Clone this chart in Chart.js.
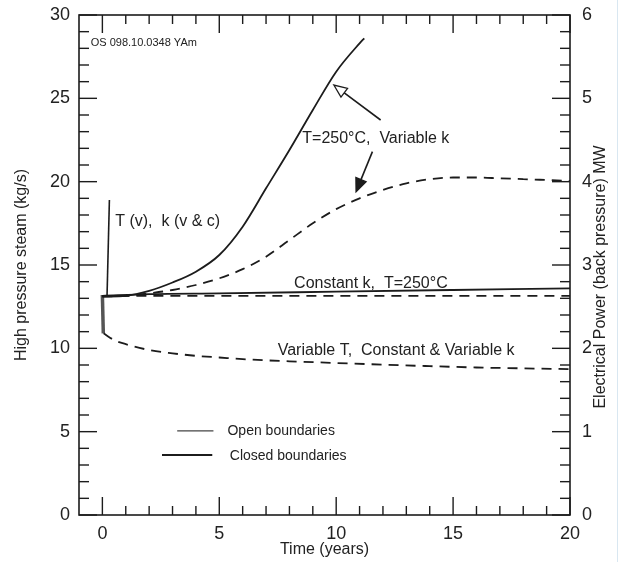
<!DOCTYPE html>
<html>
<head>
<meta charset="utf-8">
<script src="https://cdn.jsdelivr.net/npm/chart.js@4.4.1/dist/chart.umd.min.js"></script>
<style>
  body { margin: 0; background: #fff; }
  #wrap { position: relative; width: 636px; height: 562px; }
  #scanEdge { position: absolute; left: 617px; top: 0; width: 1px; height: 562px; background: #d9e7f1; }
</style>
</head>
<body>
<div id="wrap">
  <canvas id="steamChart" width="636" height="562"></canvas>
  <div id="scanEdge"></div>
</div>
<script>
// tick labels
const timeTicks = [0, 5, 10, 15, 20];
const steamTicks = [0, 5, 10, 15, 20, 25, 30];
const powerTicks = [0, 1, 2, 3, 4, 5, 6];

// T=250C, variable k, closed boundaries (solid, rising)
const closedVarKYears = [0, 1, 2, 3, 4, 5, 6, 7, 8, 9, 10, 11, 11.2];
const closedVarKSteam = [13.1, 13.15, 13.45, 13.95, 14.6, 15.6, 17.3, 19.6, 21.9, 24.3, 26.6, 28.3, 28.6];

// T=250C, variable k, open boundaries (dashed)
const openVarKYears = [0, 1, 2, 3, 4, 5, 6, 7, 8, 9, 10, 11, 12, 13, 14, 15, 16, 17, 18, 19, 20];
const openVarKSteam = [13.1, 13.15, 13.3, 13.5, 13.8, 14.2, 14.75, 15.5, 16.5, 17.5, 18.35, 19.0, 19.5, 19.9, 20.15, 20.25, 20.25, 20.2, 20.15, 20.1, 20.05];

// constant k, T=250C
const closedConstKYears = [0, 2, 5, 10, 15, 20];
const closedConstKSteam = [13.15, 13.25, 13.3, 13.4, 13.5, 13.6];
const openConstKYears = [0, 20];
const openConstKSteam = [13.15, 13.15];

// variable T, constant & variable k (open)
const varTYears = [0.05, 0.5, 1, 2, 3, 4, 5, 6, 7, 8, 10, 12, 14, 16, 18, 20];
const varTSteam = [10.9, 10.5, 10.25, 9.9, 9.7, 9.55, 9.45, 9.35, 9.28, 9.22, 9.12, 9.02, 8.93, 8.85, 8.8, 8.75];

// T (v), k (v & c) start-up spike and drop
const spikeYears = [0.2, 0.3];
const spikeSteam = [13.2, 18.9];
const dropYears = [0, 0.04];
const dropSteam = [13.2, 10.9];

const pts = (xs, ys) => xs.map((x, i) => ({ x: x, y: ys[i] }));
const ink = '#1c1c1c';
const dash = [10, 7];
const face = "'Liberation Sans', Arial, sans-serif";

Chart.defaults.font.family = face;
Chart.defaults.color = '#222';

// text notes and arrows, placed in data coordinates
const notes = [
  { text: 'OS 098.10.0348 YAm', x: -0.5, y: 28.3, size: 11 },
  { text: 'T=250°C,  Variable k', x: 8.55, y: 22.6, size: 16 },
  { text: 'T (v),  k (v & c)', x: 0.55, y: 17.6, size: 16 },
  { text: 'Constant k,  T=250°C', x: 8.2, y: 13.9, size: 16 },
  { text: 'Variable T,  Constant & Variable k', x: 7.5, y: 9.85, size: 16 },
  { text: 'Open boundaries', x: 5.35, y: 5.05, size: 14 },
  { text: 'Closed boundaries', x: 5.45, y: 3.55, size: 14 }
];
const arrows = [
  { from: [11.9, 23.7], to: [9.9, 25.8], filled: false },
  { from: [11.55, 21.8], to: [10.85, 19.4], filled: true }
];

const decorations = {
  id: 'decorations',
  afterDraw(chart) {
    const { ctx, chartArea: a, scales } = chart;
    const sx = scales.x, sy = scales.y, sp = scales.y1;
    const seg = (x1, y1, x2, y2) => { ctx.beginPath(); ctx.moveTo(x1, y1); ctx.lineTo(x2, y2); ctx.stroke(); };
    ctx.save();
    ctx.strokeStyle = ink;
    ctx.lineWidth = 1.6;
    ctx.strokeRect(a.left, a.top, a.right - a.left, a.bottom - a.top);

    // inward ticks
    ctx.lineWidth = 1.4;
    for (let v = 0; v <= 20; v++) {
      const px = sx.getPixelForValue(v);
      const len = v % 5 === 0 ? 18 : 9;
      seg(px, a.bottom, px, a.bottom - len);
      seg(px, a.top, px, a.top + len);
    }
    for (let v = 0; v <= 30; v++) {
      const py = sy.getPixelForValue(v);
      const len = v % 5 === 0 ? 18 : 10;
      seg(a.left, py, a.left + len, py);
    }
    for (let i = 0; i <= 30; i++) {
      const py = sp.getPixelForValue(i / 5);
      const len = i % 5 === 0 ? 18 : 10;
      seg(a.right, py, a.right - len, py);
    }

    // notes
    ctx.fillStyle = '#222';
    ctx.textBaseline = 'middle';
    ctx.textAlign = 'left';
    notes.forEach(n => {
      ctx.font = n.size + 'px ' + face;
      ctx.fillText(n.text, sx.getPixelForValue(n.x), sy.getPixelForValue(n.y));
    });

    // legend samples
    ctx.lineWidth = 1.1;
    ctx.strokeStyle = '#444';
    seg(sx.getPixelForValue(3.2), sy.getPixelForValue(5.05), sx.getPixelForValue(4.75), sy.getPixelForValue(5.05));
    ctx.lineWidth = 1.8;
    ctx.strokeStyle = ink;
    seg(sx.getPixelForValue(2.55), sy.getPixelForValue(3.6), sx.getPixelForValue(4.7), sy.getPixelForValue(3.6));

    // arrows
    arrows.forEach(ar => {
      const x1 = sx.getPixelForValue(ar.from[0]), y1 = sy.getPixelForValue(ar.from[1]);
      const x2 = sx.getPixelForValue(ar.to[0]), y2 = sy.getPixelForValue(ar.to[1]);
      const ang = Math.atan2(y2 - y1, x2 - x1);
      const hl = 13, hw = 5.5;
      const bx = x2 - hl * Math.cos(ang), by = y2 - hl * Math.sin(ang);
      ctx.lineWidth = 1.6;
      seg(x1, y1, bx, by);
      ctx.beginPath();
      ctx.moveTo(x2, y2);
      ctx.lineTo(bx + hw * Math.sin(ang), by - hw * Math.cos(ang));
      ctx.lineTo(bx - hw * Math.sin(ang), by + hw * Math.cos(ang));
      ctx.closePath();
      ctx.lineWidth = 1.3;
      if (ar.filled) { ctx.fillStyle = ink; ctx.fill(); }
      ctx.stroke();
    });

    // right axis title, reading bottom to top
    ctx.save();
    ctx.translate(601, (a.top + a.bottom) / 2 + 12);
    ctx.rotate(-Math.PI / 2);
    ctx.textAlign = 'center';
    ctx.font = '16px ' + face;
    ctx.fillStyle = '#222';
    ctx.fillText('Electrical Power (back pressure) MW', 0, 0);
    ctx.restore();
    ctx.restore();
  }
};

const line = (data, opts) => Object.assign({
  data: data, borderColor: ink, borderWidth: 1.8, pointRadius: 0,
  tension: 0.35, cubicInterpolationMode: 'monotone', fill: false, yAxisID: 'y'
}, opts);

// fixed scale boxes so the plot frame lands where the original is
const fixVertical = w => s => { s.width = w; s.paddingTop = 0; s.paddingBottom = 0; };

new Chart(document.getElementById('steamChart'), {
  type: 'line',
  data: {
    datasets: [
      line(pts(closedVarKYears, closedVarKSteam), {}),
      line(pts(openVarKYears, openVarKSteam), { borderDash: dash }),
      line(pts(closedConstKYears, closedConstKSteam), {}),
      line(pts(openConstKYears, openConstKSteam), { borderDash: dash }),
      line(pts(varTYears, varTSteam), { borderDash: dash }),
      line(pts(spikeYears, spikeSteam), { borderWidth: 1.6, tension: 0 }),
      line(pts(dropYears, dropSteam), { borderWidth: 3.5, borderColor: '#555', tension: 0 })
    ]
  },
  options: {
    responsive: false,
    animation: false,
    layout: { padding: { top: 15, right: 0, bottom: 0, left: 0 } },
    plugins: { legend: { display: false }, tooltip: { enabled: false } },
    scales: {
      x: {
        type: 'linear', min: -1, max: 20,
        afterBuildTicks: s => { s.ticks = timeTicks.map(v => ({ value: v })); },
        afterFit: s => { s.height = 47; s.paddingLeft = 0; s.paddingRight = 0; },
        grid: { display: false, drawTicks: false },
        border: { display: false },
        ticks: { padding: 8, font: { size: 18 }, maxRotation: 0, autoSkip: false },
        title: { display: true, text: 'Time (years)', font: { size: 16 }, padding: { bottom: 3, top: 0 } }
      },
      y: {
        type: 'linear', position: 'left', min: 0, max: 30,
        afterBuildTicks: s => { s.ticks = steamTicks.map(v => ({ value: v })); },
        afterFit: fixVertical(79),
        grid: { display: false, drawTicks: false },
        border: { display: false },
        ticks: { padding: 9, font: { size: 18 } },
        title: { display: true, text: 'High pressure steam (kg/s)', font: { size: 16 }, padding: { top: 12, bottom: 0 } }
      },
      y1: {
        type: 'linear', position: 'right', min: 0, max: 6,
        afterBuildTicks: s => { s.ticks = powerTicks.map(v => ({ value: v })); },
        afterFit: fixVertical(66),
        grid: { display: false, drawTicks: false },
        border: { display: false },
        ticks: { padding: 12, font: { size: 18 } }
      }
    }
  },
  plugins: [decorations]
});
</script>
</body>
</html>
